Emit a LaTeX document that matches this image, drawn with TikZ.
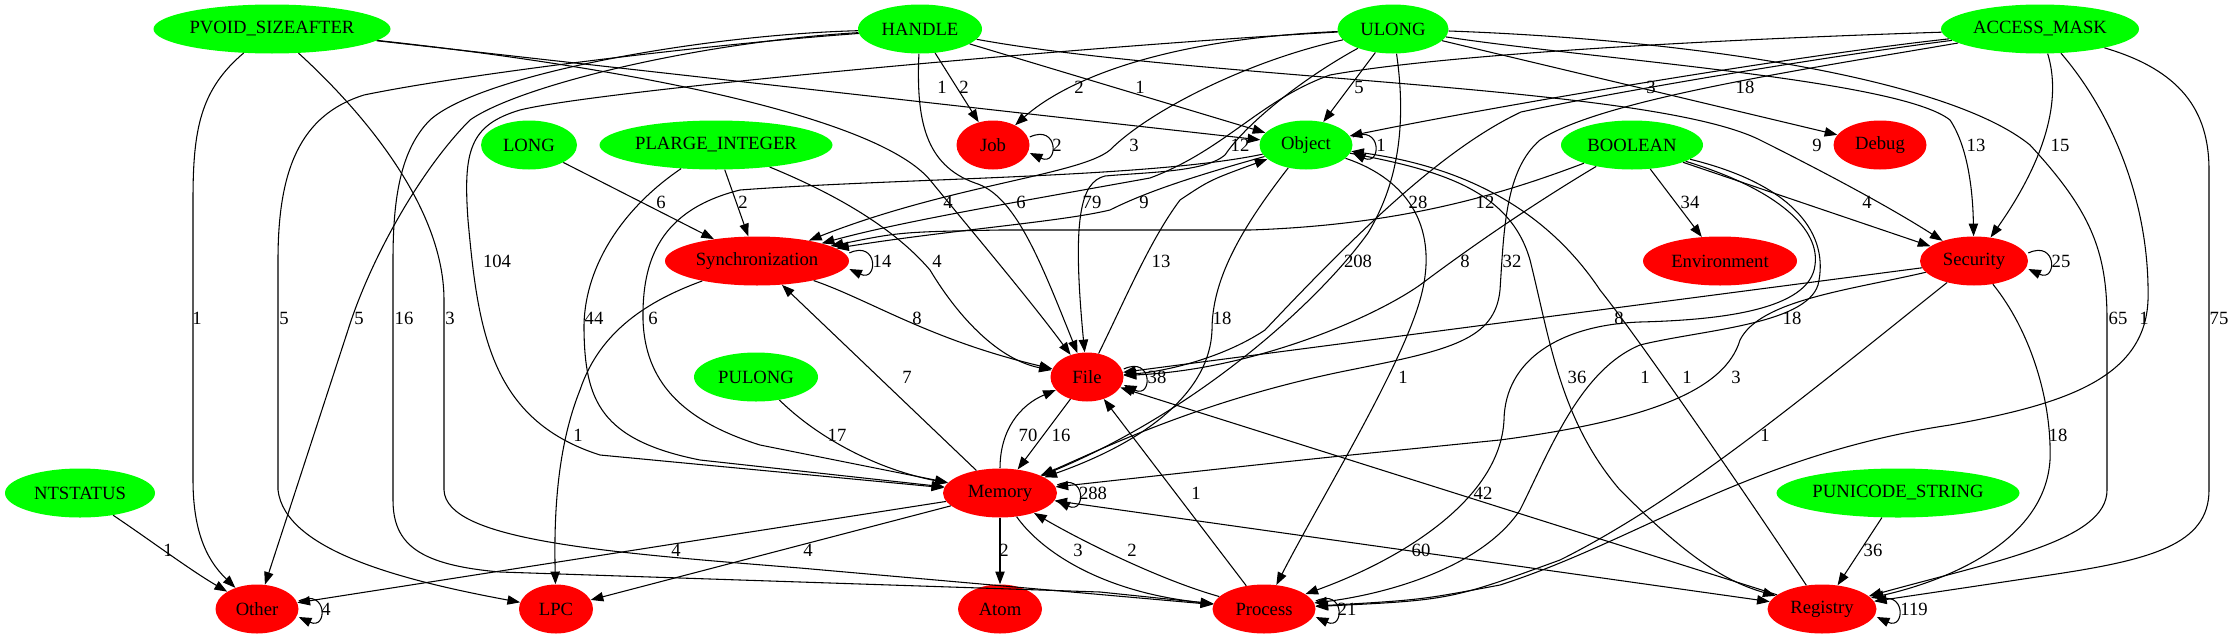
\documentclass[tikz,border=0pt]{standalone}
\usepackage{fontspec}
\setmainfont{Liberation Serif}
\usetikzlibrary{shapes.geometric,arrows.meta}
\definecolor{gvgreen}{RGB}{0,255,0}
\definecolor{gvred}{RGB}{255,0,0}
\newcommand{\zb}[1]{\makebox[0pt]{#1}}
\begin{document}
\begin{tikzpicture}[x=0.75pt,y=-0.75pt,
  nd/.style={ellipse,inner sep=0pt,minimum height=36.75pt,draw=none,font=\fontsize{14}{16}\selectfont},
  gn/.style={nd,fill=gvgreen},
  rn/.style={nd,fill=gvred},
  lab/.style={inner sep=0pt,font=\fontsize{14}{16}\selectfont},
  e/.style={draw=black,line width=0.8pt,-{Triangle[length=9.5pt,width=7pt]}},
  eb/.style={draw=black,line width=0.8pt,{Triangle[length=9.5pt,width=7pt]}-{Triangle[length=9.5pt,width=7pt]}}]
\fill[white] (0,0) rectangle (2233,639);
\useasboundingbox (0,0) rectangle (2233,639);
% nodes
\node[gn,minimum width=177.75pt] (pvoid) at (272,29) {\zb{PVOID\_SIZEAFTER}};
\node[gn,minimum width=93pt] (handle) at (920,29) {\zb{HANDLE}};
\node[gn,minimum width=83.25pt] (ulong) at (1393,29) {\zb{ULONG}};
\node[gn,minimum width=148.5pt] (access) at (2040,29) {\zb{ACCESS\_MASK}};
\node[gn,minimum width=72pt] (long) at (529,145) {\zb{LONG}};
\node[gn,minimum width=174.75pt] (plarge) at (716,145) {\zb{PLARGE\_INTEGER}};
\node[rn,minimum width=54.75pt] (job) at (993,145) {\zb{Job}};
\node[gn,minimum width=69.75pt] (object) at (1306,145) {\zb{Object}};
\node[gn,minimum width=106.5pt] (boolean) at (1632,145) {\zb{BOOLEAN}};
\node[rn,minimum width=69.75pt] (debug) at (1880,145) {\zb{Debug}};
\node[rn,minimum width=138pt] (sync) at (757,261) {\zb{Synchronization}};
\node[rn,minimum width=115.5pt] (env) at (1720,261) {\zb{Environment}};
\node[rn,minimum width=81pt] (security) at (1974,261) {\zb{Security}};
\node[gn,minimum width=93pt] (pulong) at (756,377) {\zb{PULONG}};
\node[rn,minimum width=54.75pt] (file) at (1087,377) {\zb{File}};
\node[gn,minimum width=112.5pt] (ntstatus) at (80,493) {\zb{NTSTATUS}};
\node[rn,minimum width=85.5pt] (memory) at (1000,493) {\zb{Memory}};
\node[gn,minimum width=182.25pt] (punicode) at (1898,493) {\zb{PUNICODE\_STRING}};
\node[rn,minimum width=62.25pt] (other) at (257,609) {\zb{Other}};
\node[rn,minimum width=55.5pt] (lpc) at (556,609) {\zb{LPC}};
\node[rn,minimum width=63pt] (atom) at (1000,609) {\zb{Atom}};
\node[rn,minimum width=77.25pt] (process) at (1264,609) {\zb{Process}};
\node[rn,minimum width=81.75pt] (registry) at (1822,609) {\zb{Registry}};
% PVOID_SIZEAFTER
\draw[e] (pvoid) .. controls (200,90) and (193,130) .. (193,200) -- (193,480) .. controls (193,540) and (212,565) .. (other);
\draw[e] (pvoid) .. controls (350,100) and (444,200) .. (444,300) -- (444,490) .. controls (446,540) and (600,552) .. (800,568) -- (process);
\draw[e] (pvoid) -- (object);
\draw[e] (pvoid) .. controls (650,70) and (880,120) .. (930,180) .. controls (975,235) and (1030,300) .. (file);
% HANDLE
\draw[e] (handle) -- (job);
\draw[e] (handle) .. controls (916,120) and (925,165) .. (975,183) .. controls (1015,195) and (1040,260) .. (file);
\draw[e] (handle) -- (object);
\draw[e] (handle) .. controls (1200,80) and (1650,85) .. (1760,140) .. controls (1860,190) and (1910,220) .. (security);
\draw[e] (handle) .. controls (700,45) and (460,75) .. (364,95) .. controls (300,115) and (278,170) .. (278,260) -- (278,490) .. controls (285,550) and (400,580) .. (lpc);
\draw[e] (handle) .. controls (700,42) and (520,85) .. (470,120) .. controls (420,170) and (370,260) .. (348,330) -- (other);
\draw[e] (handle) .. controls (700,35) and (480,75) .. (430,120) .. controls (400,150) and (393,200) .. (393,260) -- (393,500) .. controls (393,545) and (420,565) .. (500,572) -- (1100,592) -- (process);
% ULONG
\draw[e] (ulong) .. controls (1100,45) and (600,90) .. (520,110) .. controls (470,125) and (463,150) .. (468,220) .. controls (478,330) and (490,420) .. (600,455) -- (memory);
\draw[e] (ulong) .. controls (1150,40) and (1060,85) .. (job);
\draw[e] (ulong) -- (object);
\draw[e] (ulong) -- (debug);
\draw[e] (ulong) .. controls (1250,60) and (1150,110) .. (1110,150) .. controls (1080,175) and (950,185) .. (sync);
\draw[e] (ulong) .. controls (1300,80) and (1245,125) .. (1225,155) .. controls (1205,172) and (1150,172) .. (1105,176) .. controls (1080,182) and (1072,220) .. (file);
\draw[e] (ulong) .. controls (1406,120) and (1400,180) .. (1368,233) .. controls (1320,300) and (1200,410) .. (memory);
\draw[e] (ulong) .. controls (1600,60) and (1900,80) .. (1950,120) .. controls (1970,150) and (1973,200) .. (security);
\draw[e] (ulong) .. controls (1700,40) and (1950,80) .. (2030,145) .. controls (2090,210) and (2107,250) .. (2107,320) -- (2107,490) .. controls (2107,540) and (2000,560) .. (registry);
% ACCESS_MASK
\draw[e] (access) .. controls (1800,55) and (1500,105) .. (object);
\draw[e] (access) .. controls (1700,40) and (1440,55) .. (1330,75) .. controls (1260,100) and (1225,150) .. (1150,178) .. controls (1000,205) and (900,222) .. (sync);
\draw[e] (access) .. controls (1800,60) and (1600,95) .. (1521,112) .. controls (1440,150) and (1350,240) .. (1265,330) .. controls (1220,360) and (1160,372) .. (file);
\draw[e] (access) .. controls (1800,70) and (1600,100) .. (1540,140) .. controls (1505,170) and (1504,230) .. (1500,290) .. controls (1495,340) and (1450,350) .. (1350,370) .. controls (1200,400) and (1100,450) .. (memory);
\draw[e] (access) .. controls (2062,100) and (2045,160) .. (security);
\draw[e] (access) .. controls (2110,110) and (2150,200) .. (2148,300) .. controls (2145,380) and (2060,405) .. (1950,425) .. controls (1750,455) and (1640,540) .. (1500,585) .. controls (1420,600) .. (process);
\draw[e] (access) .. controls (2180,70) and (2209,110) .. (2209,170) -- (2209,490) .. controls (2209,545) and (2150,560) .. (2050,575) .. controls (1950,590) .. (registry);
% LONG, PLARGE_INTEGER
\draw[e] (long) -- (sync);
\draw[e] (plarge) -- (sync);
\draw[e] (plarge) .. controls (620,210) and (583,270) .. (584,330) .. controls (585,400) and (600,440) .. (700,460) -- (memory);
\draw[e] (plarge) .. controls (850,200) and (900,235) .. (930,270) .. controls (960,320) and (1000,360) .. (file);
% Object
\draw[e] (object) .. controls (1180,180) and (1140,195) .. (1110,210) .. controls (1060,222) and (950,230) .. (sync);
\draw[e] (object) .. controls (1150,178) and (900,178) .. (740,190) .. controls (660,210) and (642,260) .. (643,320) .. controls (645,380) and (680,420) .. (760,445) -- (memory);
\draw[e] (object) .. controls (1240,230) and (1212,280) .. (1212,330) .. controls (1210,390) and (1150,440) .. (memory);
\draw[e] (object) .. controls (1410,180) and (1440,230) .. (1420,300) .. controls (1400,370) and (1320,500) .. (process);
\draw[e] (object) .. controls (1440,170) and (1510,190) .. (1530,260) .. controls (1550,340) and (1560,420) .. (1620,490) .. controls (1680,550) and (1720,580) .. (registry);
\draw[e] (file) .. controls (1125,300) and (1150,240) .. (1180,200) .. controls (1210,180) .. (object);
% BOOLEAN
\draw[e] (boolean) .. controls (1500,195) and (1400,225) .. (1250,230) -- (1000,230) .. controls (900,232) .. (sync);
\draw[e] (boolean) .. controls (1540,200) and (1480,240) .. (1420,285) .. controls (1370,320) and (1250,370) .. (file);
\draw[e] (boolean) -- (env);
\draw[e] (boolean) -- (security);
\draw[e] (boolean) .. controls (1780,190) and (1820,230) .. (1815,265) .. controls (1810,310) and (1720,320) .. (1640,322) .. controls (1560,325) and (1505,360) .. (1504,420) .. controls (1500,500) and (1400,560) .. (process);
\draw[e] (boolean) .. controls (1795,185) and (1830,235) .. (1818,285) .. controls (1805,325) and (1700,330) .. (1640,345) .. controls (1580,370) and (1550,450) .. (1520,510) .. controls (1480,570) and (1380,595) .. (process);
% Synchronization
\draw[e] (sync) .. controls (870,300) and (930,340) .. (file);
\draw[e] (sync) .. controls (650,300) and (600,330) .. (580,390) .. controls (556,450) and (554,520) .. (lpc);
\draw[e] (memory) -- (sync);
% Security
\draw[e] (security) -- (file);
\draw[e] (security) .. controls (1850,290) and (1760,300) .. (1740,340) .. controls (1725,390) and (1650,420) .. (1500,440) .. controls (1300,460) .. (memory);
\draw[e] (security) .. controls (1800,400) and (1680,500) .. (1560,560) .. controls (1450,600) .. (process);
\draw[e] (security) .. controls (2030,330) and (2052,400) .. (2050,460) .. controls (2045,540) and (1950,580) .. (registry);
% lower part
\draw[e] (pulong) .. controls (820,440) and (880,470) .. (memory);
\draw[e] (file) -- (memory);
\draw[e] (memory) .. controls (1000,430) and (1020,405) .. (file);
\draw[e] (ntstatus) .. controls (150,540) and (190,570) .. (other);
\draw[e] (memory) -- (other);
\draw[e] (memory) -- (lpc);
\draw[e] (memory) -- (atom);
\draw[e] (memory) .. controls (1040,550) and (1100,592) .. (process);
\draw[e] (process) .. controls (1160,580) and (1080,540) .. (memory);
\draw[e] (process) -- (file);
\draw[eb] (memory) -- (registry);
\draw[e] (registry) -- (file);
\draw[e] (registry) .. controls (1750,500) and (1640,340) .. (1600,290) .. controls (1540,200) and (1450,165) .. (object);
\draw[e] (punicode) -- (registry);
% self loops
\draw[e] ([yshift=6pt]job.east) .. controls +(25:24pt) and +(-25:24pt) .. ([yshift=-6pt]job.east);
\draw[e] ([yshift=6pt]object.east) .. controls +(25:24pt) and +(-25:24pt) .. ([yshift=-6pt]object.east);
\draw[e] ([yshift=6pt]sync.east) .. controls +(25:24pt) and +(-25:24pt) .. ([yshift=-6pt]sync.east);
\draw[e] ([yshift=6pt]file.east) .. controls +(25:24pt) and +(-25:24pt) .. ([yshift=-6pt]file.east);
\draw[e] ([yshift=6pt]memory.east) .. controls +(25:24pt) and +(-25:24pt) .. ([yshift=-6pt]memory.east);
\draw[e] ([yshift=6pt]security.east) .. controls +(25:24pt) and +(-25:24pt) .. ([yshift=-6pt]security.east);
\draw[e] ([yshift=6pt]other.east) .. controls +(25:24pt) and +(-25:24pt) .. ([yshift=-6pt]other.east);
\draw[e] ([yshift=6pt]process.east) .. controls +(25:24pt) and +(-25:24pt) .. ([yshift=-6pt]process.east);
\draw[e] ([yshift=6pt]registry.east) .. controls +(25:24pt) and +(-25:24pt) .. ([yshift=-6pt]registry.east);
% labels
\node[lab] (t01) at (942,87) {1};
\node[lab] (t02) at (964,87) {2};
\node[lab] (t03) at (1079,87) {2};
\node[lab] (t04) at (1140,87) {1};
\node[lab] (t05) at (1359,87) {5};
\node[lab] (t06) at (1651,87) {3};
\node[lab] (t07) at (1745,87) {18};
\node[lab] (t08) at (1134,145) {3};
\node[lab] (t09) at (1240,145) {12};
\node[lab] (t10) at (1817,145) {9};
\node[lab] (t11) at (1976,145) {13};
\node[lab] (t12) at (2060,145) {15};
\node[lab] (t13) at (1057,145) {2};
\node[lab] (t14) at (1381,145) {1};
\node[lab] (t15) at (661,202) {6};
\node[lab] (t16) at (743,202) {2};
\node[lab] (t17) at (948,202) {4};
\node[lab] (t18) at (1021,202) {6};
\node[lab] (t19) at (1092,202) {79};
\node[lab] (t20) at (1144,202) {9};
\node[lab] (t21) at (1418,202) {28};
\node[lab] (t22) at (1485,202) {12};
\node[lab] (t23) at (1690,202) {34};
\node[lab] (t24) at (1867,202) {4};
\node[lab] (t25) at (497,261) {104};
\node[lab] (t26) at (882,261) {14};
\node[lab] (t27) at (937,261) {4};
\node[lab] (t28) at (1161,261) {13};
\node[lab] (t29) at (1358,261) {208};
\node[lab] (t30) at (1465,261) {8};
\node[lab] (t31) at (1512,261) {32};
\node[lab] (t32) at (2061,261) {25};
\node[lab] (t33) at (197,318) {1};
\node[lab] (t34) at (284,318) {5};
\node[lab] (t35) at (359,318) {5};
\node[lab] (t36) at (404,318) {16};
\node[lab] (t37) at (450,318) {3};
\node[lab] (t38) at (594,318) {44};
\node[lab] (t39) at (653,318) {6};
\node[lab] (t40) at (917,318) {8};
\node[lab] (t41) at (1222,318) {18};
\node[lab] (t42) at (1619,318) {8};
\node[lab] (t43) at (1792,318) {18};
\node[lab] (t44) at (2118,318) {65};
\node[lab] (t45) at (2144,318) {1};
\node[lab] (t46) at (2219,318) {75};
\node[lab] (t47) at (907,377) {7};
\node[lab] (t48) at (1157,377) {38};
\node[lab] (t49) at (1403,377) {1};
\node[lab] (t50) at (1577,377) {36};
\node[lab] (t51) at (1645,377) {1};
\node[lab] (t52) at (1687,377) {1};
\node[lab] (t53) at (1736,377) {3};
\node[lab] (t54) at (578,435) {1};
\node[lab] (t55) at (837,435) {17};
\node[lab] (t56) at (1028,435) {70};
\node[lab] (t57) at (1061,435) {16};
\node[lab] (t58) at (1765,435) {1};
\node[lab] (t59) at (2058,435) {18};
\node[lab] (t60) at (1093,493) {288};
\node[lab] (t61) at (1196,493) {1};
\node[lab] (t62) at (1483,493) {42};
\node[lab] (t63) at (168,550) {1};
\node[lab] (t64) at (676,550) {4};
\node[lab] (t65) at (808,550) {4};
\node[lab] (t66) at (1004,550) {2};
\node[lab] (t67) at (1078,550) {3};
\node[lab] (t68) at (1132,550) {2};
\node[lab] (t69) at (1421,550) {60};
\node[lab] (t70) at (1873,550) {36};
\node[lab] (t71) at (326,609) {4};
\node[lab] (t72) at (1347,609) {21};
\node[lab] (t73) at (1914,609) {119};
\end{tikzpicture}
\end{document}
